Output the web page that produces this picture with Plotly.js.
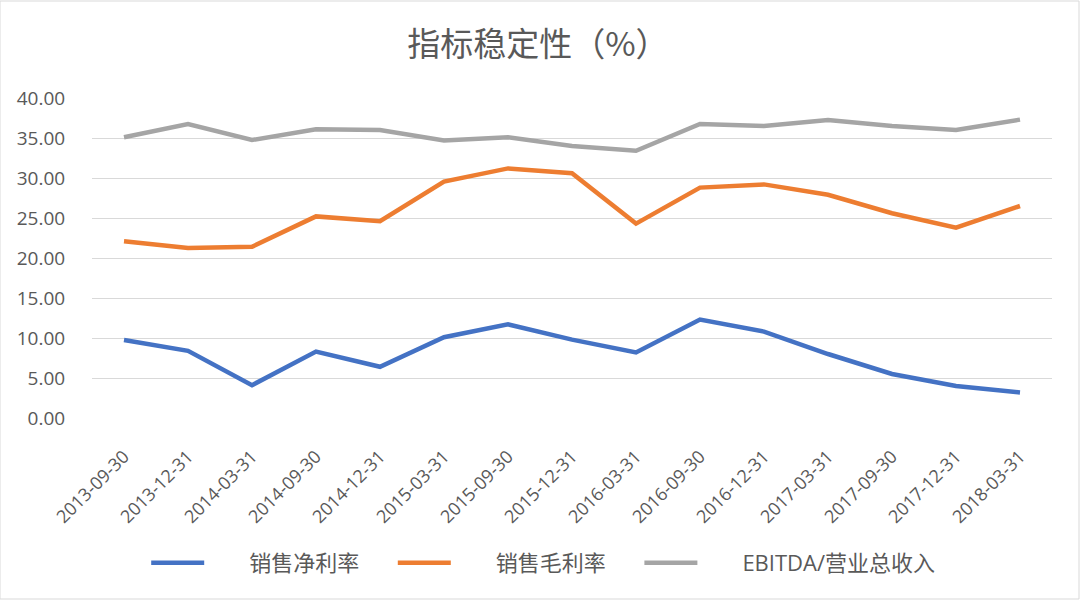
<!DOCTYPE html>
<html>
<head>
<meta charset="utf-8">
<script src="https://cdn.plot.ly/plotly-3.0.1.min.js"></script>
<style>html,body{margin:0;padding:0;background:#fff;}#chart{width:1080px;height:600px;}</style>
</head>
<body>
<div id="chart"></div>
<script>
const categories = ["2013-09-30","2013-12-31","2014-03-31","2014-09-30","2014-12-31","2015-03-31","2015-09-30","2015-12-31","2016-03-31","2016-09-30","2016-12-31","2017-03-31","2017-09-30","2017-12-31","2018-03-31"];
const netMargin = [9.75, 8.4, 4.1, 8.3, 6.4, 10.1, 11.7, 9.8, 8.2, 12.3, 10.8, 8.0, 5.5, 4.0, 3.2];
const grossMargin = [22.1, 21.25, 21.4, 25.2, 24.6, 29.55, 31.2, 30.6, 24.3, 28.8, 29.2, 27.9, 25.6, 23.8, 26.5];
const ebitdaRatio = [35.1, 36.75, 34.75, 36.1, 36.0, 34.7, 35.1, 34.0, 33.4, 36.75, 36.5, 37.25, 36.5, 36.0, 37.3];
const seriesNames = ["销售净利率", "销售毛利率", "EBITDA/营业总收入"];
const yTicks = [0, 5, 10, 15, 20, 25, 30, 35, 40];
const yTickText = yTicks.map(v => v.toFixed(2));

const font = '"Open Sans", "Noto Sans CJK SC", sans-serif';
const colors = ["#4472C4", "#ED7D31", "#A5A5A5"];
const pad = '\u00a0'.repeat(7);
const data = [netMargin, grossMargin, ebitdaRatio].map((vals, i) => ({
  type: 'scatter', mode: 'lines', x: categories, y: vals,
  name: pad + seriesNames[i] + (i < 2 ? '\u00a0'.repeat(5) : ''),
  line: {color: colors[i], width: 4.5}
}));

const layout = {
  width: 1080, height: 600,
  paper_bgcolor: '#fff', plot_bgcolor: '#fff',
  margin: {l: 92, r: 28, t: 98, b: 182},
  font: {family: font, color: '#595959'},
  title: {text: '指标稳定性（%）', x: 0.498, xref: 'container', y: 0.926, yref: 'container', yanchor: 'middle',
          font: {size: 33, color: '#595959', family: '"Noto Sans CJK SC", sans-serif'}},
  xaxis: {type: 'category', range: [-0.5, categories.length - 0.5], tickangle: -45,
          tickfont: {size: 18, color: '#595959'},
          showgrid: false, showline: false, zeroline: false,
          ticks: 'outside', ticklen: 20, tickcolor: 'rgba(0,0,0,0)'},
  yaxis: {range: [0, 40], tickvals: yTicks, ticktext: yTickText,
          tickfont: {size: 19, color: '#595959'}, gridcolor: '#d9d9d9', gridwidth: 1,
          zeroline: false, showline: false, ticks: 'outside', ticklen: 22, tickcolor: 'rgba(0,0,0,0)'},
  showlegend: true,
  legend: {orientation: 'h', x: 0.47, xref: 'paper', xanchor: 'center', y: -0.453, yanchor: 'middle',
           font: {size: 22, color: '#595959', family: '"Open Sans", "Noto Sans CJK SC", sans-serif'},
           itemwidth: 53},
  shapes: [{type: 'rect', xref: 'paper', yref: 'paper', x0: -92/960, x1: 1 + 27/960, y0: -181/320, y1: 1 + 97/320,
            line: {color: '#d9d9d9', width: 1}, fillcolor: 'rgba(0,0,0,0)'}]
};

Plotly.newPlot('chart', data, layout, {displayModeBar: false, staticPlot: true});
</script>
</body>
</html>
